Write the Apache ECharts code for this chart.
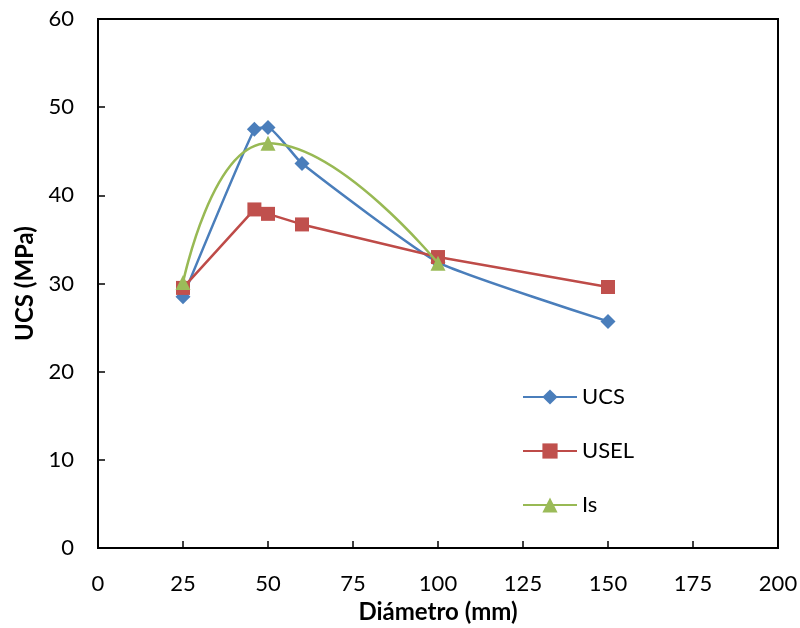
<!DOCTYPE html>
<html>
<head>
<meta charset="utf-8">
<script src="https://cdn.jsdelivr.net/npm/echarts@6/dist/echarts.min.js"></script>
<style>
html,body{margin:0;padding:0;background:#fff;}
#c{width:800px;height:628px;}
</style>
</head>
<body>
<div id="c"></div>
<script>
var xTicks = [0, 25, 50, 75, 100, 125, 150, 175, 200];
var yTicks = [0, 10, 20, 30, 40, 50, 60];
var ucsX = [25, 46, 50, 60, 100, 150];
var ucsY = [28.5, 47.5, 47.7, 43.6, 32.4, 25.7];
var uselX = [25, 46, 50, 60, 100, 150];
var uselY = [29.5, 38.4, 37.9, 36.7, 33.0, 29.6];
var isX = [25, 50, 100];
var isY = [30.1, 45.9, 32.3];

function pairs(xs, ys){ return xs.map(function(x,i){ return [x, ys[i]]; }); }

var FONT = 'Lato';
var chart = echarts.init(document.getElementById('c'));
chart.setOption({
  animation: false,
  backgroundColor: '#fff',
  textStyle: {fontFamily: FONT},
  grid: {left: 98, right: 22, top: 19, bottom: 80, show: true, borderColor: '#000', borderWidth: 2,
         containLabel: false, outerBoundsMode: 'none'},
  legend: {
    orient: 'vertical', left: 517, top: 381, itemGap: 32, itemWidth: 54, itemHeight: 19,
    textStyle: {fontFamily: FONT, fontSize: 22, color: '#000'},
    data: ['UCS', 'USEL', 'Is']
  },
  xAxis: {
    type: 'value', min: 0, max: 200, interval: 25,
    name: 'Diámetro (mm)', nameLocation: 'middle', nameGap: 52,
    nameTextStyle: {fontFamily: FONT, fontSize: 24, fontWeight: 'bold', color: '#000'},
    axisLine: {show: true, lineStyle: {color: '#000', width: 2}},
    axisTick: {show: true, inside: true, length: 7, lineStyle: {color: '#000', width: 1.5}},
    axisLabel: {fontFamily: FONT, fontSize: 22, color: '#000', margin: 25},
    splitLine: {show: false}
  },
  yAxis: {
    type: 'value', min: 0, max: 60, interval: 10,
    name: 'UCS (MPa)', nameLocation: 'middle', nameGap: 58, nameRotate: 90,
    nameTextStyle: {fontFamily: FONT, fontSize: 24, fontWeight: 'bold', color: '#000'},
    axisLine: {show: true, lineStyle: {color: '#000', width: 2}},
    axisTick: {show: true, inside: true, length: 7, lineStyle: {color: '#000', width: 1.5}},
    axisLabel: {fontFamily: FONT, fontSize: 22, color: '#000', margin: 24},
    splitLine: {show: false}
  },
  series: [
    {name: 'UCS', type: 'line', data: pairs(ucsX, ucsY), smooth: 0.15,
     symbol: 'diamond', symbolSize: 15, color: '#4A7EBB',
     lineStyle: {width: 2.5, color: '#4A7EBB'}, itemStyle: {color: '#4A7EBB'}, z: 2},
    {name: 'USEL', type: 'line', data: pairs(uselX, uselY), smooth: false,
     symbol: 'rect', symbolSize: 14, color: '#C0504D',
     lineStyle: {width: 2.5, color: '#BE4B48'}, itemStyle: {color: '#C0504D'}, z: 3},
    {name: 'Is', type: 'line', data: pairs(isX, isY), smooth: 0.5,
     symbol: 'triangle', symbolSize: 15, color: '#9BBB59',
     lineStyle: {width: 2.5, color: '#98B954'}, itemStyle: {color: '#9BBB59'}, z: 4}
  ]
});
</script>
</body>
</html>
